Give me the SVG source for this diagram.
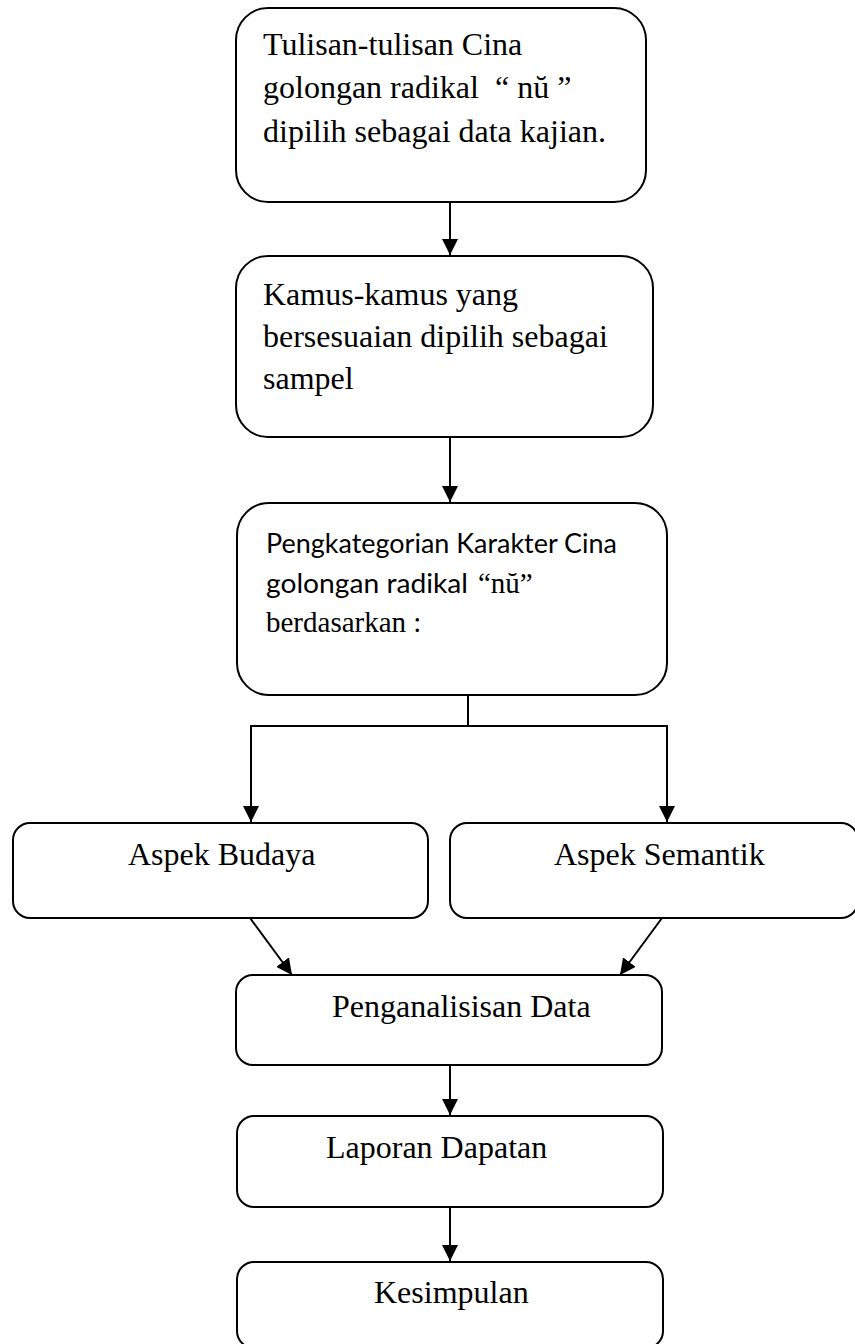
<svg xmlns="http://www.w3.org/2000/svg" width="855" height="1344" viewBox="0 0 855 1344">
  <style>
    .box { fill: #ffffff; stroke: #000000; stroke-width: 2; }
    .serif { font-family: "Liberation Serif", "Times New Roman", serif; font-size: 32px; fill: #000000; }
    .sans { font-family: Lato, "Liberation Sans", sans-serif; font-size: 27px; fill: #000000; }
    .conn { fill: none; stroke: #000000; stroke-width: 2; }
  </style>
  <defs>
    <marker id="arrow" viewBox="0 0 16 16" refX="16" refY="8" markerWidth="16" markerHeight="16" markerUnits="userSpaceOnUse" orient="auto">
      <path d="M0,0 L16,8 L0,16 z" fill="#000000"/>
    </marker>
  </defs>
  <rect x="0" y="0" width="855" height="1344" fill="#ffffff"/>

  <g id="connectors">
    <line class="conn" x1="450" y1="202" x2="450" y2="255" marker-end="url(#arrow)"/>
    <line class="conn" x1="450" y1="437" x2="450" y2="502" marker-end="url(#arrow)"/>
    <polyline class="conn" points="468,695 468,726"/>
    <polyline class="conn" points="251,726 667,726"/>
    <line class="conn" x1="251" y1="725" x2="251" y2="822" marker-end="url(#arrow)"/>
    <line class="conn" x1="667" y1="725" x2="667" y2="822" marker-end="url(#arrow)"/>
    <line class="conn" x1="250" y1="918" x2="292" y2="975" marker-end="url(#arrow)"/>
    <line class="conn" x1="662" y1="918" x2="620" y2="975" marker-end="url(#arrow)"/>
    <line class="conn" x1="450" y1="1065" x2="450" y2="1115" marker-end="url(#arrow)"/>
    <line class="conn" x1="450" y1="1207" x2="450" y2="1261" marker-end="url(#arrow)"/>
  </g>

  <g id="node-tulisan">
    <rect class="box" x="236" y="8" width="410" height="194" rx="32" ry="32"/>
    <text class="serif" x="263" y="55">Tulisan-tulisan Cina</text>
    <text class="serif" x="263" y="98" xml:space="preserve">golongan radikal  “ nŭ ”</text>
    <text class="serif" x="263" y="142">dipilih sebagai data kajian.</text>
  </g>

  <g id="node-kamus">
    <rect class="box" x="236" y="256" width="417" height="181" rx="32" ry="32"/>
    <text class="serif" x="263" y="305">Kamus-kamus yang</text>
    <text class="serif" x="263" y="347">bersesuaian dipilih sebagai</text>
    <text class="serif" x="263" y="389">sampel</text>
  </g>

  <g id="node-pengkategorian">
    <rect class="box" x="237" y="503" width="430" height="192" rx="32" ry="32"/>
    <text class="sans" x="266" y="553" textLength="351" lengthAdjust="spacingAndGlyphs">Pengkategorian Karakter Cina</text>
    <text class="sans" x="266" y="593" textLength="202" lengthAdjust="spacingAndGlyphs">golongan radikal</text>
    <text class="serif" x="478" y="593" style="font-size:29px">“nŭ”</text>
    <text class="serif" x="266" y="632" style="font-size:29px">berdasarkan :</text>
  </g>

  <g id="node-budaya">
    <rect class="box" x="13" y="823" width="415" height="95" rx="17" ry="17"/>
    <text class="serif" x="128" y="865">Aspek Budaya</text>
  </g>

  <g id="node-semantik">
    <rect class="box" x="450" y="823" width="408" height="95" rx="17" ry="17"/>
    <text class="serif" x="554" y="865">Aspek Semantik</text>
  </g>

  <g id="node-penganalisisan">
    <rect class="box" x="236" y="975" width="426" height="90" rx="17" ry="17"/>
    <text class="serif" x="332" y="1017">Penganalisisan Data</text>
  </g>

  <g id="node-laporan">
    <rect class="box" x="237" y="1116" width="426" height="91" rx="17" ry="17"/>
    <text class="serif" x="326" y="1158">Laporan Dapatan</text>
  </g>

  <g id="node-kesimpulan">
    <rect class="box" x="237" y="1262" width="426" height="86" rx="17" ry="17"/>
    <text class="serif" x="374" y="1303">Kesimpulan</text>
  </g>
</svg>
